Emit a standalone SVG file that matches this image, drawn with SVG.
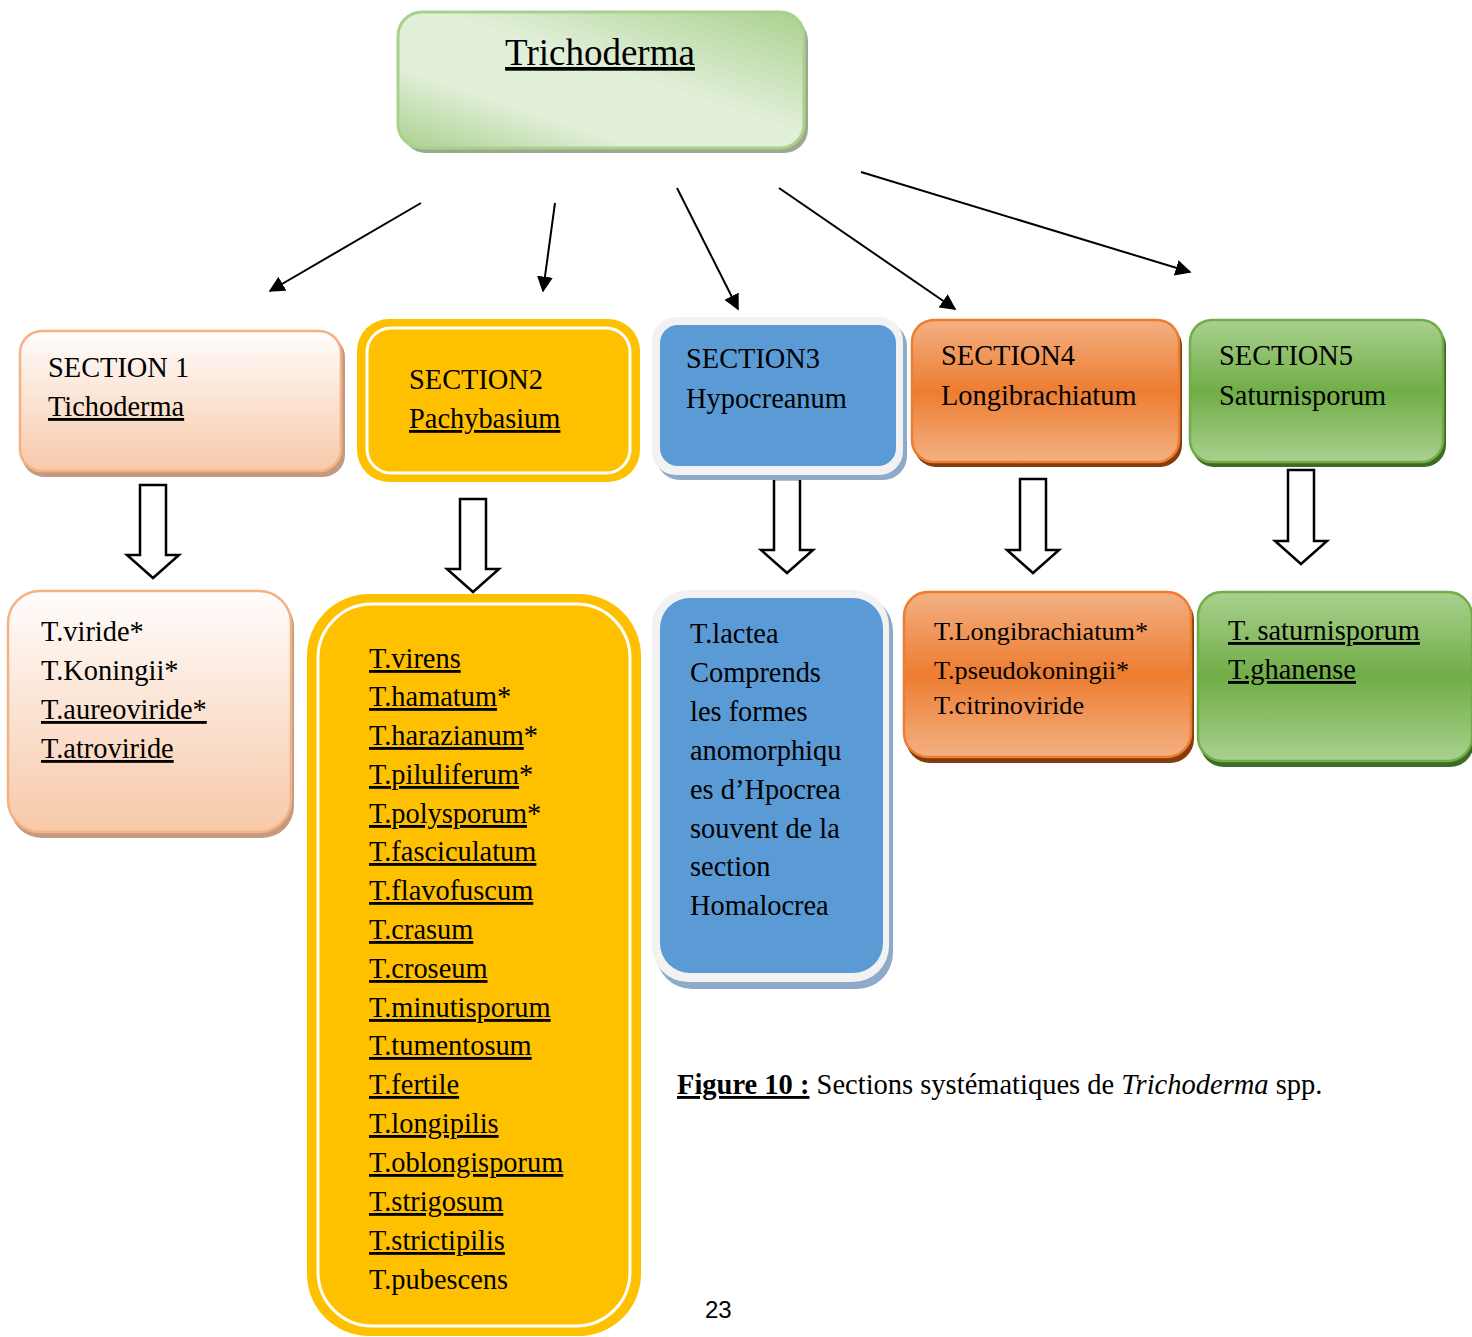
<svg xmlns="http://www.w3.org/2000/svg" width="1472" height="1337" viewBox="0 0 1472 1337">
<defs>
<style>
text{font-family:"Liberation Serif","Times New Roman",serif;fill:#000}
.t28{font-size:28.4px}
.t26{font-size:26.2px}
.u{text-decoration:underline}
.conn{stroke:#000;stroke-width:2;fill:none}
.blk{fill:#fff;stroke:#000;stroke-width:2.5;stroke-linejoin:miter}
</style>
<linearGradient id="gTop" x1="0" y1="1" x2="1" y2="0">
<stop offset="0" stop-color="#a9d18e"/>
<stop offset="0.3" stop-color="#e2efd9"/>
<stop offset="0.55" stop-color="#e2efd9"/>
<stop offset="1" stop-color="#a9d18e"/>
</linearGradient>
<linearGradient id="gPeach" x1="0" y1="0" x2="0" y2="1">
<stop offset="0" stop-color="#fffdfc"/>
<stop offset="1" stop-color="#f7c9a9"/>
</linearGradient>
<linearGradient id="gOrange" x1="0" y1="0" x2="0" y2="1">
<stop offset="0" stop-color="#f3b083"/>
<stop offset="0.5" stop-color="#ed7d31"/>
<stop offset="1" stop-color="#f3b083"/>
</linearGradient>
<linearGradient id="gGreen" x1="0" y1="0" x2="0" y2="1">
<stop offset="0" stop-color="#a9d18e"/>
<stop offset="0.5" stop-color="#70ad47"/>
<stop offset="1" stop-color="#a9d18e"/>
</linearGradient>
<marker id="ah2" viewBox="0 0 10 10" refX="9" refY="5" markerWidth="16" markerHeight="16" markerUnits="userSpaceOnUse" orient="auto">
<path d="M0,0 L10,5 L0,10 z" fill="#000"/>
</marker>
</defs>
<rect width="1472" height="1337" fill="#fff"/>

<g id="connectors">
<line class="conn" x1="421" y1="203" x2="270" y2="291" marker-end="url(#ah2)"/>
<line class="conn" x1="555" y1="203" x2="543" y2="291" marker-end="url(#ah2)"/>
<line class="conn" x1="677" y1="188" x2="738" y2="309" marker-end="url(#ah2)"/>
<line class="conn" x1="779" y1="188" x2="955" y2="309" marker-end="url(#ah2)"/>
<line class="conn" x1="861" y1="172" x2="1190" y2="272" marker-end="url(#ah2)"/>
<path class="blk" d="M140,485 H166 V555 H179 L153,578 L127,555 H140 Z"/>
<path class="blk" d="M460,499 H486 V569 H499 L473,592 L447,569 H460 Z"/>
<path class="blk" d="M774,479 H800 V550 H813 L787,573 L761,550 H774 Z"/>
<path class="blk" d="M1020,479 H1046 V550 H1059 L1033,573 L1007,550 H1020 Z"/>
<path class="blk" d="M1288,470 H1314 V541 H1327 L1301,564 L1275,541 H1288 Z"/>
</g>

<g id="root">
<rect x="402" y="17" width="406" height="136" rx="24" fill="#9aa98f"/>
<rect x="398" y="12" width="406" height="136" rx="24" fill="url(#gTop)" stroke="#a9d18e" stroke-width="3"/>
<text x="600" y="65" font-size="37" text-anchor="middle" class="u">Trichoderma</text>
</g>

<g id="section1">
<rect x="22" y="335" width="323" height="142" rx="22" fill="#c39b82"/>
<rect x="20" y="331" width="321" height="140" rx="22" fill="url(#gPeach)" stroke="#f4b183" stroke-width="2.5"/>
<text x="48" y="377" class="t28">SECTION 1</text>
<text x="48" y="416" class="t28 u">Tichoderma</text>
</g>

<g id="section2">
<rect x="357" y="319" width="283" height="163" rx="32" fill="#ffc000"/>
<rect x="367" y="328" width="263" height="145" rx="24" fill="#ffc000" stroke="#fff" stroke-width="3"/>
<text x="409" y="389" class="t28">SECTION2</text>
<text x="409" y="428" class="t28 u">Pachybasium</text>
</g>

<g id="section3">
<rect x="656" y="322" width="251" height="158" rx="24" fill="#8eaacb"/>
<rect x="652" y="317" width="251" height="158" rx="24" fill="#f2f2f2"/>
<rect x="660" y="325" width="236" height="141" rx="18" fill="#5b9bd5"/>
<text x="686" y="368" class="t28">SECTION3</text>
<text x="686" y="408" class="t28">Hypocreanum</text>
</g>

<g id="section4">
<rect x="914" y="324" width="268" height="143" rx="22" fill="#843c0c"/>
<rect x="912" y="320" width="267" height="142" rx="22" fill="url(#gOrange)" stroke="#ed7d31" stroke-width="2.5"/>
<text x="941" y="365" class="t28">SECTION4</text>
<text x="941" y="405" class="t28">Longibrachiatum</text>
</g>

<g id="section5">
<rect x="1192" y="324" width="254" height="143" rx="22" fill="#3f6b27"/>
<rect x="1190" y="320" width="253" height="142" rx="22" fill="url(#gGreen)" stroke="#70ad47" stroke-width="2.5"/>
<text x="1219" y="365" class="t28">SECTION5</text>
<text x="1219" y="405" class="t28">Saturnisporum</text>
</g>

<g id="list1">
<rect x="10" y="595" width="284" height="243" rx="32" fill="#c39b82"/>
<rect x="8" y="591" width="283" height="241" rx="32" fill="url(#gPeach)" stroke="#f4b183" stroke-width="2.5"/>
<text x="41" y="641" class="t28">T.viride*</text>
<text x="41" y="680" class="t28">T.Koningii*</text>
<text x="41" y="719" class="t28 u">T.aureoviride*</text>
<text x="41" y="758" class="t28 u">T.atroviride</text>
</g>

<g id="list2">
<rect x="307" y="594" width="334" height="742" rx="62" fill="#ffc000"/>
<rect x="318" y="604" width="312" height="722" rx="54" fill="#ffc000" stroke="#fff" stroke-width="3"/>
<g class="t28">
<text x="369" y="668"><tspan class="u">T.virens</tspan></text>
<text x="369" y="706"><tspan class="u">T.hamatum</tspan>*</text>
<text x="369" y="745"><tspan class="u">T.harazianum</tspan>*</text>
<text x="369" y="784"><tspan class="u">T.piluliferum</tspan>*</text>
<text x="369" y="823"><tspan class="u">T.polysporum</tspan>*</text>
<text x="369" y="861"><tspan class="u">T.fasciculatum</tspan></text>
<text x="369" y="900"><tspan class="u">T.flavofuscum</tspan></text>
<text x="369" y="939"><tspan class="u">T.crasum</tspan></text>
<text x="369" y="978"><tspan class="u">T.croseum</tspan></text>
<text x="369" y="1017"><tspan class="u">T.minutisporum</tspan></text>
<text x="369" y="1055"><tspan class="u">T.tumentosum</tspan></text>
<text x="369" y="1094"><tspan class="u">T.fertile</tspan></text>
<text x="369" y="1133"><tspan class="u">T.longipilis</tspan></text>
<text x="369" y="1172"><tspan class="u">T.oblongisporum</tspan></text>
<text x="369" y="1211"><tspan class="u">T.strigosum</tspan></text>
<text x="369" y="1250"><tspan class="u">T.strictipilis</tspan></text>
<text x="369" y="1289">T.pubescens</text>
</g>
</g>

<g id="list3">
<rect x="656" y="595" width="237" height="394" rx="36" fill="#8eaacb"/>
<rect x="652" y="590" width="237" height="392" rx="36" fill="#f2f2f2"/>
<rect x="660" y="598" width="223" height="375" rx="30" fill="#5b9bd5"/>
<g class="t28">
<text x="690" y="643">T.lactea</text>
<text x="690" y="682">Comprends</text>
<text x="690" y="721">les formes</text>
<text x="690" y="760">anomorphiqu</text>
<text x="690" y="799">es d’Hpocrea</text>
<text x="690" y="838">souvent de la</text>
<text x="690" y="876">section</text>
<text x="690" y="915">Homalocrea</text>
</g>
</g>

<g id="list4">
<rect x="906" y="596" width="288" height="167" rx="24" fill="#843c0c"/>
<rect x="904" y="592" width="287" height="165" rx="24" fill="url(#gOrange)" stroke="#ed7d31" stroke-width="2.5"/>
<text x="934" y="640" class="t26">T.Longibrachiatum*</text>
<text x="934" y="679" class="t26">T.pseudokoningii*</text>
<text x="934" y="714" class="t26">T.citrinoviride</text>
</g>

<g id="list5">
<rect x="1200" y="597" width="274" height="170" rx="24" fill="#3f6b27"/>
<rect x="1198" y="592" width="274" height="169" rx="24" fill="url(#gGreen)" stroke="#70ad47" stroke-width="2.5"/>
<text x="1228" y="640" class="t28 u">T. saturnisporum</text>
<text x="1228" y="679" class="t28 u">T.ghanense</text>
</g>

<g id="caption">
<text x="677" y="1094" font-size="28.5"><tspan font-weight="bold" class="u">Figure 10 :</tspan> Sections systématiques de <tspan font-style="italic">Trichoderma</tspan> spp.</text>
<text x="705" y="1318" font-size="24" style="font-family:'Liberation Sans','DejaVu Sans',sans-serif">23</text>
</g>
</svg>
